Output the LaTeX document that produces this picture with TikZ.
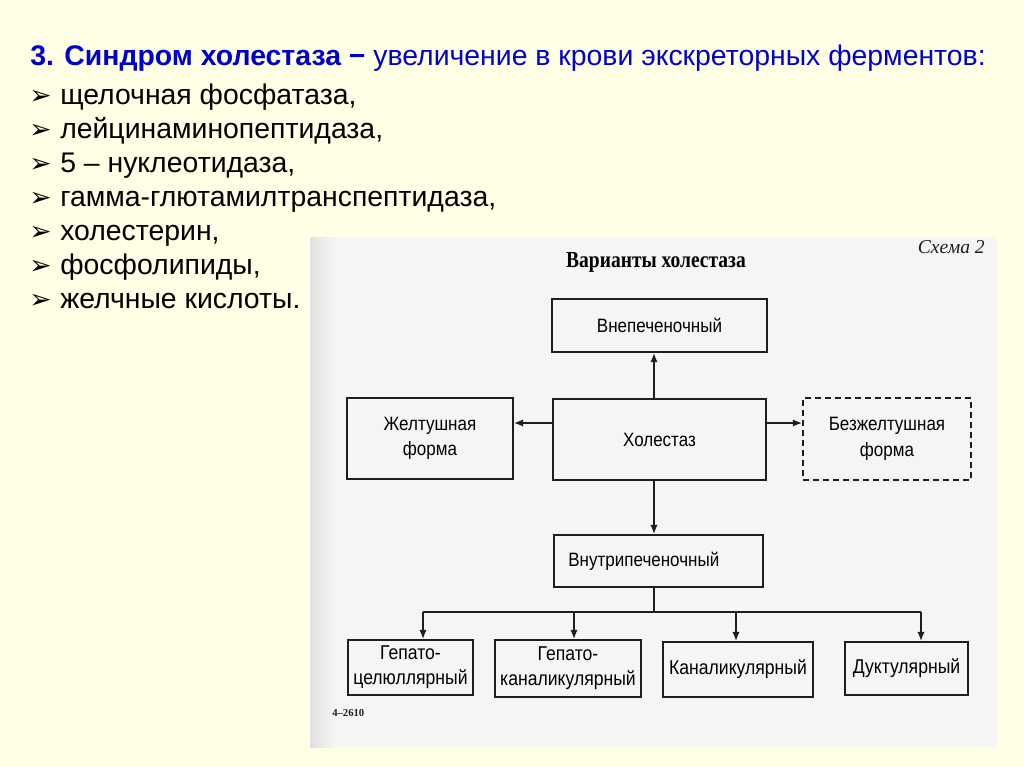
\documentclass[tikz,border=0pt]{standalone}
\usepackage{fontspec}
\setmainfont{Liberation Sans}
\newfontfamily\arrowfont{DejaVu Sans}
\newfontfamily\boxfont[FakeStretch=0.88]{Liberation Sans}
\newfontfamily\condserif[FakeStretch=0.85]{Liberation Serif}
\newfontfamily\plainserif{Liberation Serif}
\usetikzlibrary{arrows.meta}
\definecolor{cream}{RGB}{255,255,229}
\definecolor{titleblue}{RGB}{0,0,204}
\definecolor{scan}{RGB}{245,245,245}
\definecolor{ink}{RGB}{30,30,30}
\tikzset{
  listtext/.style={anchor=base west, inner sep=0pt, font=\fontsize{21.3}{26}\selectfont},
  bullet/.style={anchor=base west, inner sep=0pt, font=\arrowfont\bfseries\fontsize{20}{26}\selectfont},
  box/.style={draw=ink, line width=1.3pt, inner sep=0pt, align=center,
              font=\boxfont\fontsize{14.5}{17}\selectfont, text=black},
  smallbox/.style={box, font=\boxfont\fontsize{15}{18}\selectfont},
  conn/.style={draw=ink, line width=1.2pt},
  arr/.style={conn, -{Latex[length=7pt,width=5.5pt]}},
}
\begin{document}
\begin{tikzpicture}[x=0.75pt,y=-0.75pt]
\fill[cream] (0,0) rectangle (1024,767);
\useasboundingbox (0,0) rectangle (1024,767);
% scanned page
\fill[scan] (310,237) rectangle (997,747);
\shade[left color=black!12, right color=scan] (310,237) rectangle (334,747);

% heading and list
\node[listtext, text=titleblue] (title) at (30,66)
  {\textbf{3. Синдром холестаза −} увеличение в крови экскреторных ферментов:};
\foreach \i/\y/\t in {1/104/{щелочная фосфатаза,},
                      2/138/{лейцинаминопептидаза,},
                      3/172/{5 – нуклеотидаза,},
                      4/206/{гамма-глютамилтранспептидаза,},
                      5/240/{холестерин,},
                      6/274/{фосфолипиды,},
                      7/308/{желчные кислоты.}}{
  \node[bullet] (b\i) at (29,\y) {➢};
  \node[listtext] (item\i) at (60,\y) {\t};
}

% scheme captions
\node[anchor=base east, inner sep=0pt, font=\plainserif\itshape\fontsize{14.7}{17}\selectfont, text=ink] (schema) at (985,253) {Схема 2};
\node[anchor=base, inner sep=0pt, font=\condserif\bfseries\fontsize{17.2}{20}\selectfont, text=black] (stitle) at (656,267) {Варианты холестаза};
\node[anchor=base west, inner sep=0pt, font=\plainserif\bfseries\fontsize{8}{10}\selectfont, text=ink] (code) at (332,716) {4–2610};

% boxes
\node[box, minimum width=215*0.75pt, minimum height=53*0.75pt] (vne) at (659.5,325.5) {Внепеченочный};
\node[box, minimum width=213*0.75pt, minimum height=81*0.75pt] (hol) at (659.5,439.5) {Холестаз};
\node[box, minimum width=166*0.75pt, minimum height=81*0.75pt] (zhel) at (430,438.5) {Желтушная\\[2pt]форма};
\node[box, dashed, dash pattern=on 4.5pt off 3pt, minimum width=168*0.75pt, minimum height=82*0.75pt] (bez) at (887,439) {Безжелтушная\\[2pt]форма};
\node[box, minimum width=209*0.75pt, minimum height=52*0.75pt] (vnu) at (658.5,561) {\kern-22pt Внутрипеченочный};
\node[smallbox, minimum width=125*0.75pt, minimum height=55*0.75pt] (c1) at (410.5,667.5) {Гепато-\\[1pt]целюллярный};
\node[smallbox, minimum width=146*0.75pt, minimum height=57*0.75pt] (c2) at (568,668.5) {Гепато-\\[1pt]каналикулярный};
\node[smallbox, minimum width=150*0.75pt, minimum height=55*0.75pt] (c3) at (738,669.5) {Каналикулярный};
\node[smallbox, minimum width=123*0.75pt, minimum height=53*0.75pt] (c4) at (906.5,668.5) {Дуктулярный};

% connectors
\coordinate (vx) at (654,0);
\coordinate (hy) at (0,423);
\coordinate (bus) at (654,612);
\coordinate (d1) at (423,612);
\coordinate (d2) at (574,612);
\coordinate (d3) at (736,612);
\coordinate (d4) at (921,612);
\draw[arr] (vx |- hol.north) -- (vx |- vne.south);
\draw[arr] (hy -| hol.west) -- (hy -| zhel.east);
\draw[arr] (hy -| hol.east) -- (hy -| bez.west);
\draw[arr] (vx |- hol.south) -- (vx |- vnu.north);
\draw[conn] (vx |- vnu.south) -- (bus);
\draw[conn] (d1) -- (d4);
\draw[arr] (d1) -- (d1 |- c1.north);
\draw[arr] (d2) -- (d2 |- c2.north);
\draw[arr] (d3) -- (d3 |- c3.north);
\draw[arr] (d4) -- (d4 |- c4.north);
\end{tikzpicture}
\end{document}
